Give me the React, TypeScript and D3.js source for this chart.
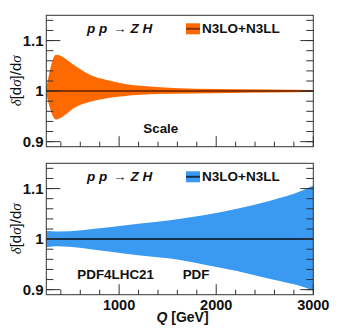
import React from "react";
import * as d3 from "d3";

const scaleQ = [250, 350, 395, 446, 531, 703, 875, 1046, 1218, 1561, 2000, 2557, 3000];
const scaleUp = [1.006, 1.072, 1.070, 1.064, 1.052, 1.032, 1.022, 1.0145, 1.0105, 1.006, 1.004, 1.003, 1.002];
const scaleDn = [0.993, 0.944, 0.947, 0.953, 0.966, 0.979, 0.986, 0.990, 0.9926, 0.9946, 0.996, 0.997, 0.998];

const pdfQ = [250, 360, 875, 1218, 1527, 1870, 2214, 2557, 2900, 3000];
const pdfUp = [1.016, 1.015, 1.023, 1.031, 1.0375, 1.047, 1.060, 1.076, 1.097, 1.106];
const pdfDn = [0.984, 0.986, 0.976, 0.9675, 0.9615, 0.950, 0.937, 0.921, 0.905, 0.898];

const xMajor = [1000, 2000, 3000];
const xMinor = d3.range(400, 3000, 200).filter((v) => v % 1000 !== 0);
const yMajor = [0.9, 1.0, 1.1];
const yMinor = d3.range(0, 13).map((i) => +(0.9 + i * 0.02).toFixed(2));

const X0 = 46.3, X1 = 313.3;
const FONT = "Liberation Sans, Arial, Helvetica, sans-serif";
const SERIF = "Liberation Serif, Times New Roman, serif";

function Panel({ top, q, up, dn, fill, lineColor, label, showX, texts }) {
  const H = 131.4;
  const x = d3.scaleLinear().domain([250, 3000]).range([X0, X1]);
  const y = d3.scaleLinear().domain([0.89, 1.15]).range([top + H, top]);
  const data = q.map((v, i) => ({ q: v, u: up[i], d: dn[i] }));
  const area = d3
    .area<any>()
    .x((d) => x(d.q))
    .y0((d) => y(d.d))
    .y1((d) => y(d.u))
    .curve(d3.curveMonotoneX);
  const bottom = top + H;
  return (
    <g>
      <path d={area(data) || ""} fill={fill} />
      <line x1={X0} x2={X1} y1={y(1)} y2={y(1)} stroke={lineColor} strokeWidth={2} />
      <rect x={X0} y={top} width={X1 - X0} height={H} fill="none" stroke="#333" strokeWidth={1} />
      {xMajor.map((v) => (
        <line key={"xM" + v} x1={x(v)} x2={x(v)} y1={bottom} y2={bottom - 10.5} stroke="#333" />
      ))}
      {xMinor.map((v) => (
        <line key={"xm" + v} x1={x(v)} x2={x(v)} y1={bottom} y2={bottom - 5} stroke="#333" />
      ))}
      {yMinor.map((v) => (
        <g key={"ym" + v}>
          <line x1={X0} x2={X0 + 7} y1={y(v)} y2={y(v)} stroke="#333" />
          <line x1={X1} x2={X1 - 7} y1={y(v)} y2={y(v)} stroke="#333" />
        </g>
      ))}
      {yMajor.map((v) => (
        <g key={"yM" + v}>
          <line x1={X0} x2={X0 + 14} y1={y(v)} y2={y(v)} stroke="#333" />
          <line x1={X1} x2={X1 - 13} y1={y(v)} y2={y(v)} stroke="#333" />
          <text x={43.5} y={y(v) + 5.2} textAnchor="end" fontFamily={FONT} fontWeight="bold" fontSize={15} fill="#111">
            {v === 1 ? "1" : v.toFixed(1)}
          </text>
        </g>
      ))}
      {showX &&
        xMajor.map((v) => (
          <text key={"xl" + v} x={x(v)} y={309.5} textAnchor="middle" fontFamily={FONT} fontWeight="bold" fontSize={14.5} fill="#111">
            {v}
          </text>
        ))}
      <text
        transform={`translate(20.5,${top + 65.5}) rotate(-90)`}
        textAnchor="middle"
        fontFamily={FONT}
        fontSize={15}
        fill="#111"
      >
        <tspan fontFamily={SERIF} fontStyle="italic">δ</tspan>[d<tspan fontFamily={SERIF} fontStyle="italic">σ</tspan>]/d<tspan fontFamily={SERIF} fontStyle="italic">σ</tspan>
      </text>
      <text x={87} y={top + 18} fontFamily={FONT} fontWeight="bold" fontStyle="italic" fontSize={13.5} fill="#111" xmlSpace="preserve">
        p p <tspan fontStyle="normal" fontWeight="normal" dx={2}>→</tspan><tspan dx={4}>Z H</tspan>
      </text>
      <rect x={186} y={top + 8} width={14} height={11} fill={fill} />
      <line x1={186} x2={200} y1={top + 13.5} y2={top + 13.5} stroke={lineColor} strokeWidth={2} />
      <text x={202} y={top + 18} fontFamily={FONT} fontWeight="bold" fontSize={13.5} fill="#111">
        {label}
      </text>
      {texts.map((t) => (
        <text key={t.s} x={t.x} y={t.y} fontFamily={FONT} fontWeight="bold" fontSize={13.4} fill="#111">
          {t.s}
        </text>
      ))}
    </g>
  );
}

export default function App() {
  return (
    <svg width={340} height={328} style={{ position: "absolute", left: 0, top: 0, background: "#fff" }}>
      <Panel
        top={15.3}
        q={scaleQ}
        up={scaleUp}
        dn={scaleDn}
        fill="#ff6a00"
        lineColor="#8a3300"
        label="N3LO+N3LL"
        showX={false}
        texts={[{ s: "Scale", x: 143.3, y: 133.3 }]}
      />
      <Panel
        top={163.3}
        q={pdfQ}
        up={pdfUp}
        dn={pdfDn}
        fill="#3a9af2"
        lineColor="#13304f"
        label="N3LO+N3LL"
        showX={true}
        texts={[
          { s: "PDF4LHC21", x: 77.3, y: 279.3 },
          { s: "PDF", x: 182.7, y: 279.3 },
        ]}
      />
      <text x={156.5} y={322} fontFamily={FONT} fontWeight="bold" fontSize={14} fill="#111">
        <tspan fontStyle="italic">Q</tspan> [GeV]
      </text>
    </svg>
  );
}
